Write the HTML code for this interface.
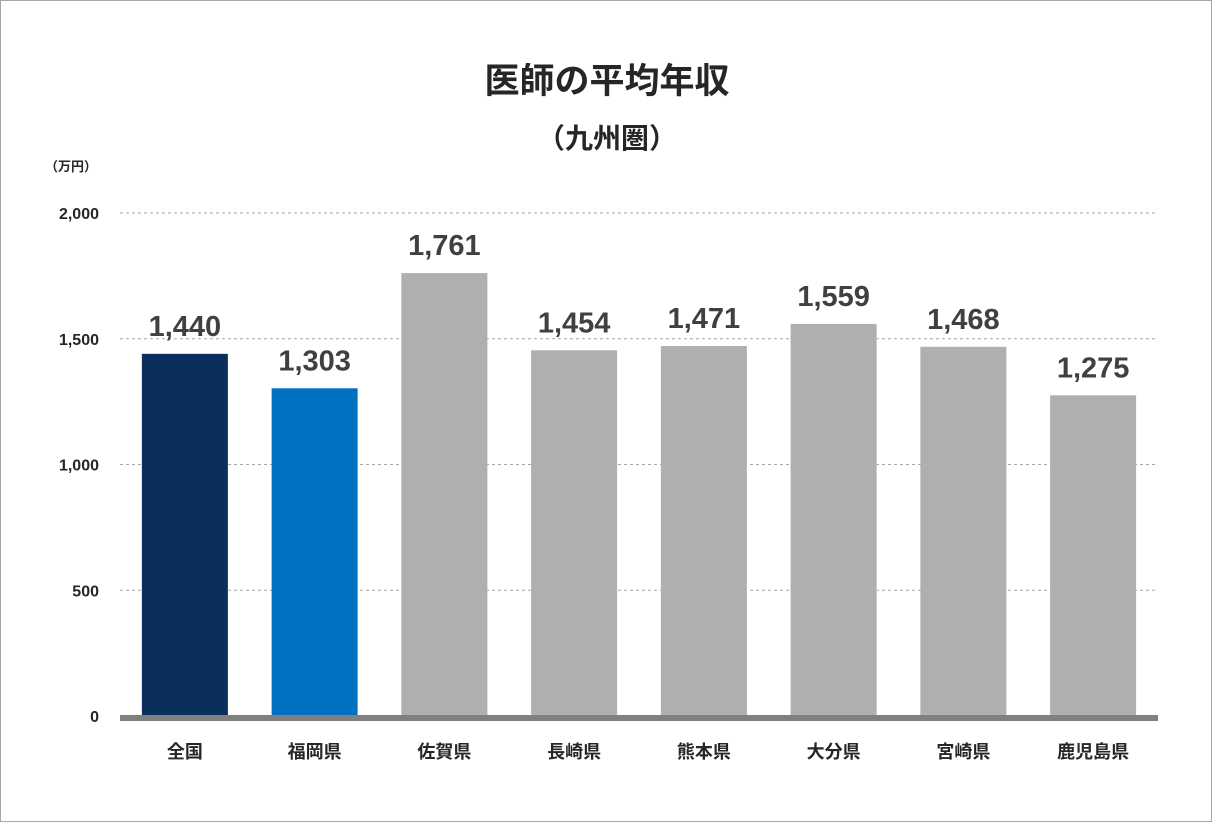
<!DOCTYPE html>
<html><head><meta charset="utf-8"><style>
body{margin:0;background:#fff;}
#wrap{position:relative;width:1210px;height:820px;border:1px solid #a6a6a6;background:#fff;font-family:"Liberation Sans","Noto Sans CJK JP",sans-serif;overflow:hidden;}
</style></head><body>
<div id="wrap">
<svg id="chart" width="1210" height="820" style="font-family:'Liberation Sans','Noto Sans CJK JP',sans-serif">
<text x="606" y="92" text-anchor="middle" font-size="35" font-weight="bold" fill="#262626">医師の平均年収</text>
<text x="606" y="147" text-anchor="middle" font-size="28" font-weight="bold" fill="#262626">（九州圏）</text>
<text x="70" y="170" text-anchor="middle" font-size="13" font-weight="bold" fill="#262626">（万円）</text>
<g id="grid"></g><g id="bars"></g>
</svg>
</div>
<script>
const categories=["全国","福岡県","佐賀県","長崎県","熊本県","大分県","宮崎県","鹿児島県"];
const values=[1440,1303,1761,1454,1471,1559,1468,1275];
const colors=["#0b2f5b","#0070c0","#afafaf","#afafaf","#afafaf","#afafaf","#afafaf","#afafaf"];
const ticks=[0,500,1000,1500,2000];
const NS="http://www.w3.org/2000/svg";
const y0=715,yTop=212,yMax=2000,x0=119,x1=1157;
const y=v=>y0-(v/yMax)*(y0-yTop);
const step=(x1-x0)/categories.length;
const xc=i=>x0+step*(i+0.5);
const bw=86;
function mk(t,a,p){const e=document.createElementNS(NS,t);for(const k in a)e.setAttribute(k,a[k]);p.appendChild(e);return e;}
const grid=document.getElementById('grid'),bars=document.getElementById('bars');
ticks.forEach(t=>{
  if(t>0){const l=mk('line',{x1:x0,x2:x1,y1:y(t),y2:y(t),stroke:'#a6a6a6','stroke-dasharray':'3,3','stroke-width':1},grid);
  
  }
  const tx=mk('text',{x:98,y:y(t)+6,'text-anchor':'end','font-size':16,'font-weight':'bold',fill:'#262626'},grid);
  tx.textContent=t.toLocaleString('en-US');
  
  
});
values.forEach((v,i)=>{
  const r=mk('rect',{x:xc(i)-bw/2,y:y(v),width:bw,height:y0-y(v),fill:colors[i]},bars);
  
  
  const t=mk('text',{x:xc(i),y:y(v)-18,'text-anchor':'middle','font-size':29,'font-weight':'bold',fill:'#404040'},bars);
  t.textContent=v.toLocaleString('en-US');
  
  
  const c=mk('text',{x:xc(i),y:757,'text-anchor':'middle','font-size':18,'font-weight':'bold',fill:'#262626'},bars);
  c.textContent=categories[i];
  
  
});
const base=mk('rect',{x:x0,y:y0-1,width:x1-x0,height:6,fill:'#808080'},bars);


</script>
</body></html>
